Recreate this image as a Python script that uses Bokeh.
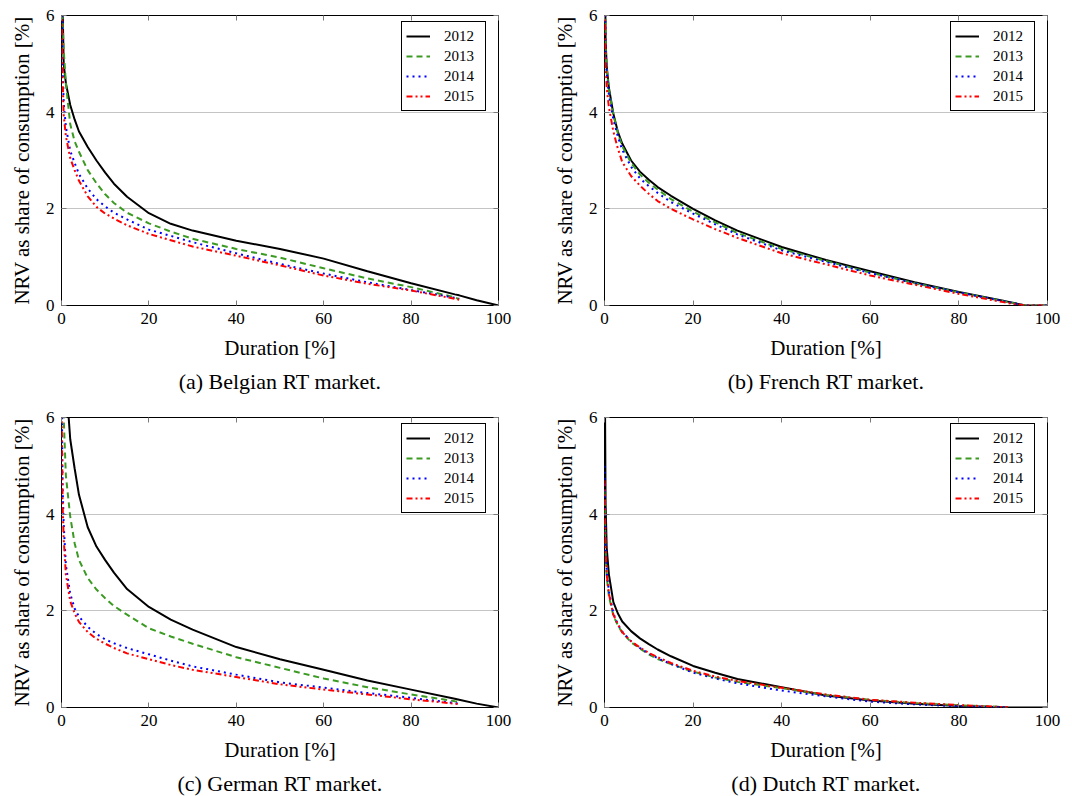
import numpy as np
from bokeh.plotting import figure
from bokeh.models import Range1d, FixedTicker, LinearAxis, Legend, LegendItem, Title
from bokeh.layouts import column, row
from bokeh.embed import file_html
from bokeh.resources import INLINE

# ---------------- data ----------------
DURATION = [0, 0.25, 0.5, 1, 2, 3, 4, 6, 8, 10, 12, 15, 20, 25, 30, 40, 50, 60, 70, 80, 90, 91, 95, 100]
YEARS = ["2012", "2013", "2014", "2015"]
X_TICKS = [0, 20, 40, 60, 80, 100]
Y_TICKS = [0, 2, 4, 6]

BE_2012 = [8.0, 6.2, 5.0, 4.6, 4.15, 3.85, 3.6, 3.28, 3.0, 2.75, 2.52, 2.25, 1.91, 1.69, 1.55, 1.34, 1.17, 0.97, 0.71, 0.46, 0.23, 0.21, 0.11, 0.0]
BE_2013 = [7.5, 5.9, 5.3, 4.6, 3.75, 3.4, 3.18, 2.8, 2.53, 2.3, 2.12, 1.92, 1.7, 1.53, 1.38, 1.17, 0.99, 0.77, 0.56, 0.38, 0.17, 0.13, None, None]
BE_2014 = [7.0, 5.0, 4.2, 3.7, 3.2, 2.95, 2.72, 2.42, 2.2, 2.05, 1.92, 1.78, 1.57, 1.44, 1.31, 1.08, 0.86, 0.66, 0.48, 0.32, 0.16, 0.14, None, None]
BE_2015 = [6.5, 4.7, 3.95, 3.5, 3.05, 2.8, 2.58, 2.26, 2.04, 1.9, 1.8, 1.66, 1.48, 1.35, 1.22, 1.03, 0.83, 0.62, 0.45, 0.31, 0.14, 0.12, None, None]

FR_2012 = [8.0, 5.5, 4.95, 4.5, 3.97, 3.6, 3.35, 3.0, 2.77, 2.6, 2.45, 2.27, 2.0, 1.76, 1.55, 1.21, 0.94, 0.71, 0.48, 0.28, 0.10, 0.08, 0.0, 0.0]
FR_2013 = [8.0, 5.4, 4.9, 4.45, 3.95, 3.57, 3.3, 2.95, 2.71, 2.54, 2.4, 2.2, 1.94, 1.72, 1.5, 1.17, 0.92, 0.68, 0.46, 0.27, 0.09, 0.07, 0.0, 0.0]
FR_2014 = [8.0, 5.3, 4.8, 4.35, 3.85, 3.5, 3.22, 2.87, 2.63, 2.47, 2.33, 2.14, 1.9, 1.68, 1.47, 1.14, 0.9, 0.67, 0.46, 0.27, 0.09, 0.07, 0.0, 0.0]
FR_2015 = [7.0, 5.0, 4.5, 4.1, 3.6, 3.25, 2.97, 2.68, 2.48, 2.31, 2.16, 2.0, 1.78, 1.58, 1.4, 1.08, 0.85, 0.62, 0.43, 0.24, 0.07, 0.05, 0.0, 0.0]

DE_2012 = [12.0, 10.0, 9.0, 6.8, 5.55, 4.95, 4.4, 3.73, 3.33, 3.05, 2.79, 2.45, 2.08, 1.82, 1.61, 1.25, 1.0, 0.78, 0.56, 0.37, 0.18, 0.16, 0.08, 0.0]
DE_2013 = [9.0, 7.0, 6.0, 4.8, 3.95, 3.4, 3.05, 2.68, 2.44, 2.26, 2.1, 1.92, 1.64, 1.47, 1.32, 1.04, 0.82, 0.6, 0.42, 0.27, 0.13, 0.12, None, None]
DE_2014 = [7.0, 4.6, 3.8, 2.95, 2.35, 2.05, 1.88, 1.67, 1.52, 1.41, 1.33, 1.23, 1.1, 0.97, 0.85, 0.68, 0.52, 0.41, 0.3, 0.2, 0.09, 0.08, None, None]
DE_2015 = [6.5, 4.2, 3.5, 2.75, 2.2, 1.95, 1.77, 1.56, 1.42, 1.32, 1.23, 1.12, 1.0, 0.88, 0.78, 0.63, 0.48, 0.37, 0.27, 0.17, 0.08, 0.07, None, None]

NL_2012 = [8.0, 4.2, 3.3, 2.75, 2.18, 1.95, 1.78, 1.58, 1.43, 1.31, 1.2, 1.06, 0.86, 0.72, 0.59, 0.42, 0.25, 0.145, 0.08, 0.03, 0.005, 0.003, 0.0, 0.0]
NL_2013 = [4.5, 3.2, 2.7, 2.3, 1.9, 1.7, 1.55, 1.35, 1.22, 1.1, 1.0, 0.9, 0.74, 0.62, 0.53, 0.4, 0.26, 0.16, 0.09, 0.045, 0.01, 0.008, None, None]
NL_2014 = [5.0, 3.4, 2.8, 2.4, 1.95, 1.72, 1.57, 1.37, 1.23, 1.12, 1.02, 0.9, 0.72, 0.6, 0.5, 0.35, 0.23, 0.12, 0.065, 0.025, 0.005, 0.003, None, None]
NL_2015 = [4.7, 3.3, 2.75, 2.35, 1.92, 1.72, 1.56, 1.37, 1.24, 1.13, 1.04, 0.92, 0.76, 0.64, 0.55, 0.41, 0.27, 0.16, 0.1, 0.05, 0.01, 0.008, None, None]

CAPTIONS = ["(a) Belgian RT market.", "(b) French RT market.",
            "(c) German RT market.", "(d) Dutch RT market."]

# ---------------- styling ----------------
FONT = "Liberation Serif"
COLORS = ["#000000", "#3a9a22", "#0000ff", "#ff0000"]
DASHES = ["solid", "6 4", "2 4", "6 3 2 3 2 3"]
FRAME_H = 290


def style_axis(ax, ticks, labels=True):
    ax.ticker = FixedTicker(ticks=ticks)
    ax.axis_line_color = None
    ax.major_tick_in = 5
    ax.major_tick_out = 0
    ax.major_tick_line_color = "#7a7a7a"
    ax.major_tick_line_width = 1
    ax.minor_tick_line_color = None
    ax.major_label_text_font = FONT
    ax.major_label_text_font_size = "17px"
    ax.major_label_text_color = "black"
    ax.major_label_standoff = 7
    if not labels:
        ax.major_label_overrides = {t: "" for t in ticks}
        ax.major_label_standoff = 0


def panel(series, caption, left, right, top, bottom, fw):
    p = figure(frame_width=fw, frame_height=FRAME_H,
               min_border_left=left, min_border_right=right,
               min_border_top=top, min_border_bottom=bottom,
               x_range=Range1d(0, 100), y_range=Range1d(0, 6),
               output_backend="svg", toolbar_location=None, tools="")
    p.background_fill_color = "white"
    p.border_fill_color = "white"
    p.outline_line_color = "black"
    p.outline_line_width = 1
    p.outline_line_alpha = 1
    p.xgrid.visible = False
    p.ygrid.ticker = FixedTicker(ticks=[2, 4])
    p.ygrid.grid_line_color = "#c4c4c4"
    p.ygrid.grid_line_width = 1

    xb = p.below[0]
    yl = p.left[0]
    style_axis(xb, X_TICKS)
    style_axis(yl, Y_TICKS)
    xa = LinearAxis()
    yr = LinearAxis()
    style_axis(xa, X_TICKS, labels=False)
    style_axis(yr, Y_TICKS, labels=False)
    p.add_layout(xa, "above")
    p.add_layout(yr, "right")

    for ax, lab in ((xb, "Duration [%]"), (yl, "NRV as share of consumption [%]")):
        ax.axis_label = lab
        ax.axis_label_text_font = FONT
        ax.axis_label_text_font_size = "21px"
        ax.axis_label_text_font_style = "normal"
        ax.axis_label_text_color = "black"
        ax.axis_label_standoff = 9

    x = np.array(DURATION, dtype=float)
    items = []
    for ys, year, col, dash in zip(series, YEARS, COLORS, DASHES):
        y = np.array(ys, dtype=float)
        r = p.line(x, y, line_color=col, line_width=2, line_dash=dash)
        items.append(LegendItem(label=year, renderers=[r]))

    legend = Legend(items=items, location=(fw - 14 - 83, FRAME_H - 8 - 88),
                    border_line_color="black", border_line_width=1, border_line_alpha=1,
                    background_fill_color="white", background_fill_alpha=1,
                    padding=4, spacing=0, margin=0,
                    label_height=20, glyph_height=20, glyph_width=24,
                    label_standoff=14, label_width=37,
                    label_text_font=FONT, label_text_font_size="15px",
                    label_text_color="black")
    p.add_layout(legend)

    cap = Title(text=caption, align="center", standoff=8,
                text_font=FONT, text_font_size="22px", text_font_style="normal",
                text_color="black")
    p.add_layout(cap, "below")
    return p


p1 = panel([BE_2012, BE_2013, BE_2014, BE_2015], CAPTIONS[0], 61, 38, 15, 97, 437)
p2 = panel([FR_2012, FR_2013, FR_2014, FR_2015], CAPTIONS[1], 68, 25, 15, 97, 443)
p3 = panel([DE_2012, DE_2013, DE_2014, DE_2015], CAPTIONS[2], 61, 38, 15, 88, 437)
p4 = panel([NL_2012, NL_2013, NL_2014, NL_2015], CAPTIONS[3], 68, 25, 15, 88, 443)

layout = column(row(p1, p2), row(p3, p4))
open("out.html", "w").write(file_html(layout, INLINE))
